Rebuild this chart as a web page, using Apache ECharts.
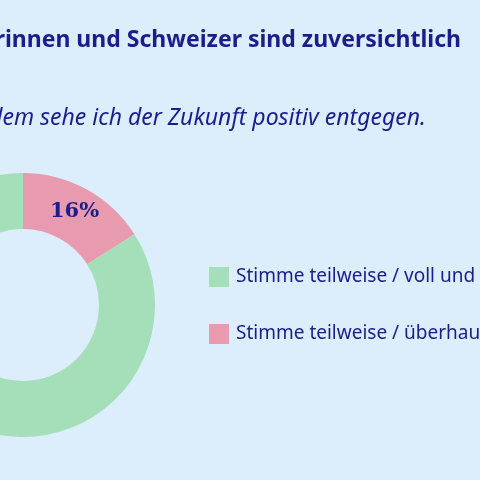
<!DOCTYPE html>
<html><head><meta charset="utf-8">
<script src="https://cdn.jsdelivr.net/npm/echarts@6/dist/echarts.min.js"></script>
<style>html,body{margin:0;padding:0;background:#dcedfb}#c{width:480px;height:480px}</style>
</head><body><div id="c"></div>
<script>
const categories = ["Stimme teilweise / überhaupt nicht zu", "Stimme teilweise / voll und ganz zu"];
const values = [16, 84];
const labels = ["16%", ""];
const colors = ["#e89aae", "#a5dfba"];
const chart = echarts.init(document.getElementById('c'));
chart.setOption({
  backgroundColor: '#dcedfb',
  title: [
    {text: 'Schweizerinnen und Schweizer sind zuversichtlich', right: 14, top: 24,
     textStyle: {color: '#1c1c8c', fontSize: 23, fontWeight: 'bold', fontFamily: 'Noto Sans'}},
    {text: 'Trotz allem sehe ich der Zukunft positiv entgegen.', right: 49, top: 102,
     textStyle: {color: '#1c1c8c', fontSize: 23, fontWeight: 'normal', fontStyle: 'italic', fontFamily: 'Noto Sans'}}
  ],
  legend: {
    orient: 'vertical', left: 204, top: 262, itemWidth: 20, itemHeight: 20, itemGap: 37,
    data: [categories[1], categories[0]], icon: 'rect',
    textStyle: {color: '#1c1c8c', fontSize: 19, fontFamily: 'Noto Sans', padding: [0,0,0,2]}
  },
  series: [{
    type: 'pie', center: [23, 305], radius: [76, 132], startAngle: 90, clockwise: true,
    silent: true, avoidLabelOverlap: false,
    data: categories.map((c, i) => ({name: c, value: values[i], itemStyle: {color: colors[i]},
      label: {show: !!labels[i], formatter: labels[i]}})),
    label: {position: 'inside', color: '#1c1c8c', fontSize: 21, fontWeight: 'bold', fontFamily: 'DejaVu Serif'},
    labelLine: {show: false}
  }]
});
</script></body></html>
